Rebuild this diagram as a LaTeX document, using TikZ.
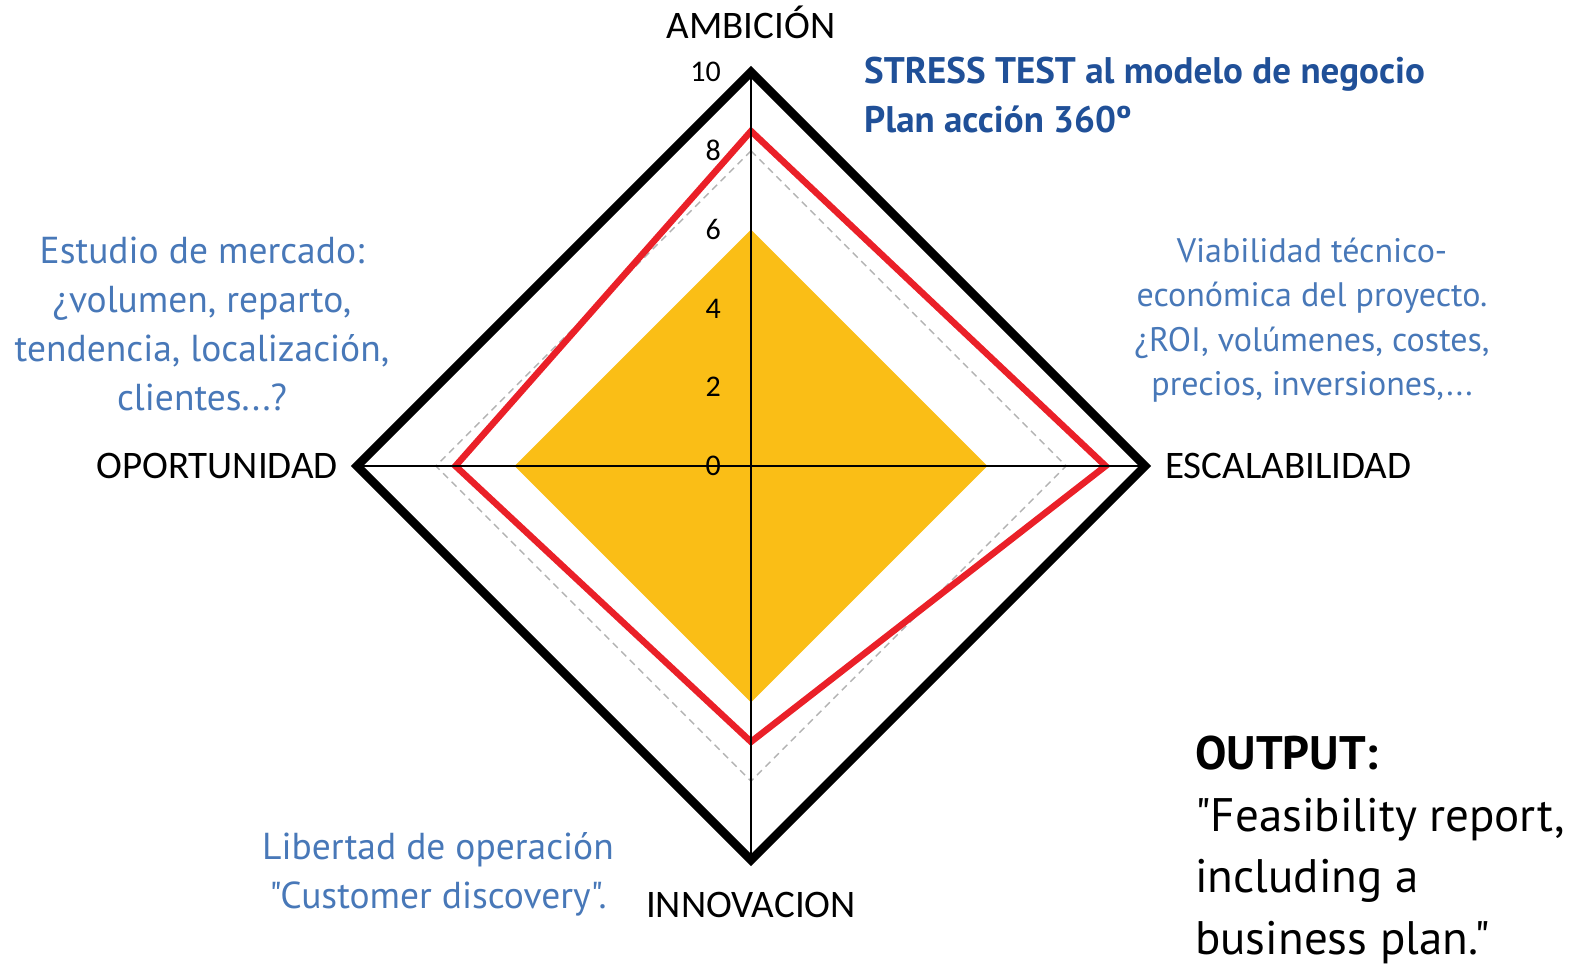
\documentclass[tikz,border=0pt]{standalone}
\usepackage{fontspec}
\setmainfont{PT Sans}[Ligatures=TeXOff]
\newfontfamily\axisfont{Carlito}
\definecolor{goldfill}{RGB}{250,190,22}
\definecolor{redline}{RGB}{234,32,40}
\definecolor{darkblue}{RGB}{32,80,152}
\definecolor{lightblue}{RGB}{72,120,184}
\tikzset{axis/.style={black,line width=2.2pt}}
\tikzset{frame/.style={black,line width=8.5pt}}
\tikzset{score/.style={redline,line width=6.5pt}}
\tikzset{guide/.style={gray!60,line width=1.4pt,dash pattern=on 7pt off 5pt}}
\tikzset{axlabel/.style={font=\axisfont\fontsize{39}{46}\selectfont,inner sep=0pt}}
\tikzset{tick/.style={font=\axisfont\fontsize{30}{34}\selectfont,anchor=east,inner sep=0pt}}
\tikzset{note/.style={lightblue,align=center,inner sep=0pt}}

\begin{document}
\begin{tikzpicture}[x=1pt,y=-1pt]
  \useasboundingbox (0,0) rectangle (1579,966);
  \begin{scope}[shift={(751,466)},x=39.4pt,y=39.4pt]
    \coordinate (O) at (0,0);
    \coordinate (N) at (0,10);
    \coordinate (E) at (10,0);
    \coordinate (S) at (0,-10);
    \coordinate (W) at (-10,0);
    \fill[goldfill] (0,6) -- (6,0) -- (0,-6) -- (-6,0) -- cycle;
    \draw[guide] (0,8) -- (8,0) -- (0,-8) -- (-8,0) -- cycle;
    \draw[score] (0,8.5) -- (9,0) -- (0,-7) -- (-7.5,0) -- cycle;
    \draw[axis] (W) -- (E);
    \draw[axis] (N) -- (S);
    \draw[frame] (N) -- (E) -- (S) -- (W) -- cycle;
    \foreach \v in {0,2,...,10}
      \node[tick] (t\v) at (-0.76,\v) {\v};
  \end{scope}
  \node[axlabel] (ambicion) at (751,22) {AMBICIÓN};
  \node[axlabel,anchor=west] (escalabilidad) at (1165,466) {ESCALABILIDAD};
  \node[axlabel,anchor=east] (oportunidad) at (338,466) {OPORTUNIDAD};
  \node[axlabel] (innovacion) at (751,905) {INNOVACION};
  \node[darkblue,align=left,anchor=west,inner sep=0pt,font=\bfseries\fontsize{37}{49}\selectfont] (stress) at (864,95)
    {STRESS TEST al modelo de negocio\\Plan acción 360º};
  \node[note,font=\fontsize{37.5}{49}\selectfont] (mercado) at (202,324)
    {Estudio de mercado:\\¿volumen, reparto,\\tendencia, localización,\\clientes...?};
  \node[note,font=\fontsize{34}{44.5}\selectfont] (viabilidad) at (1312,320)
    {Viabilidad técnico-\\económica del proyecto.\\¿ROI, volúmenes, costes,\\precios, inversiones,...};
  \node[note,font=\fontsize{37.5}{49}\selectfont] (libertad) at (438,874)
    {Libertad de operación\\"Customer discovery".};
  \node[align=left,anchor=west,inner sep=0pt,font=\fontsize{47}{61.5}\selectfont] (output) at (1195,850)
    {\textbf{OUTPUT:}\\"Feasibility report,\\including a\\business plan."};
\end{tikzpicture}
\end{document}
